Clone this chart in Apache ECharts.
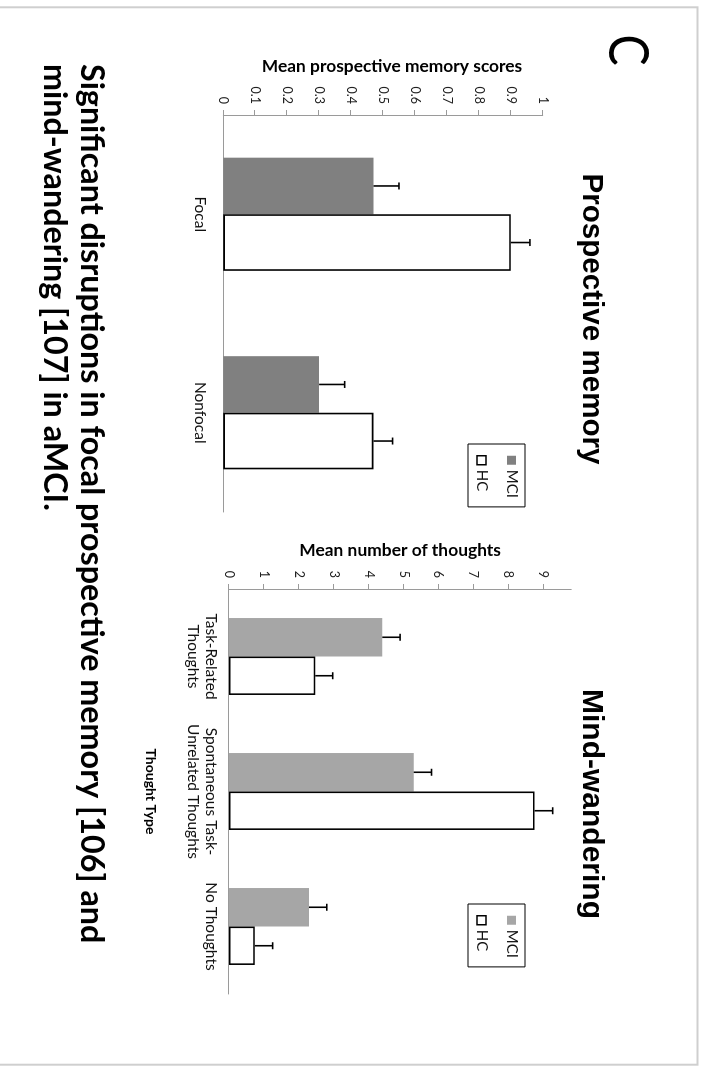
<!DOCTYPE html>
<html><head><meta charset="utf-8">
<script src="https://cdn.jsdelivr.net/npm/echarts@6/dist/echarts.min.js"></script>
<style>
html,body{margin:0;padding:0;background:#fff;width:704px;height:1071px;overflow:hidden;}
#wrap{position:absolute;left:0;top:0;width:1071px;height:704px;transform-origin:0 0;transform:translate(704px,0) rotate(90deg);}
</style></head><body><div id="wrap"></div>
<script>
// ---- data ----
const pmCategories = ['Focal', 'Nonfocal'];
const pmMCI = [0.47, 0.30];
const pmMCIErr = [0.08, 0.08];
const pmHC = [0.90, 0.47];
const pmHCErr = [0.06, 0.06];
const pmTicks = [0, 0.1, 0.2, 0.3, 0.4, 0.5, 0.6, 0.7, 0.8, 0.9, 1];

const mwCategories = ['Task-Related\nThoughts', 'Spontaneous Task-\nUnrelated Thoughts', 'No Thoughts'];
const mwMCI = [4.39, 5.29, 2.29];
const mwMCIErr = [0.51, 0.51, 0.51];
const mwHC = [2.47, 8.75, 0.74];
const mwHCErr = [0.50, 0.52, 0.51];
const mwTicks = [0, 1, 2, 3, 4, 5, 6, 7, 8, 9];
const mwAxisMax = 9.8;

const seriesNames = ['MCI', 'HC'];
const panelTitles = ['Prospective memory', 'Mind-wandering'];
const axisNames = ['Mean prospective memory scores', 'Mean number of thoughts', 'Thought Type'];
const captionLines = ['Significant disruptions in focal prospective memory [106] and', 'mind-wandering [107] in aMCI.'];
const panelLetter = 'C';

// ---- styles ----
const GAP = 0.43;
const AXIS_COLOR = '#9a9a9a';
const BODY_FONT = 'Lato';
const MCI_DARK = '#808080';
const MCI_LIGHT = '#a6a6a6';

const chart = echarts.init(document.getElementById('wrap'), null, {width: 1071, height: 704});

function valueAxis(gridIndex, max, interval, ticks, name, nameGap, namePad) {
  return {
    type: 'value', gridIndex: gridIndex, min: 0, max: max, interval: interval,
    name: name, nameLocation: 'middle', nameGap: nameGap, nameRotate: 90,
    nameTextStyle: {fontFamily: BODY_FONT, fontWeight: 'bold', fontSize: 17.4, color: '#000', padding: namePad},
    axisLine: {show: true, lineStyle: {color: AXIS_COLOR, width: 1}},
    axisTick: {show: true, length: 5, inside: false, lineStyle: {color: AXIS_COLOR, width: 1}, customValues: ticks},
    axisLabel: {show: true, customValues: ticks, margin: 11, fontFamily: BODY_FONT, fontSize: 12.5, color: '#222',
      formatter: function (v) { return String(+(+v).toFixed(2)); }},
    splitLine: {show: false}
  };
}
function catAxis(gridIndex, data, margin, extra) {
  return Object.assign({
    type: 'category', gridIndex: gridIndex, data: data, position: 'bottom',
    axisLine: {show: true, lineStyle: {color: AXIS_COLOR, width: 1}},
    axisTick: {show: false},
    axisLabel: {show: true, interval: 0, margin: margin, fontFamily: BODY_FONT, fontSize: 15.5, lineHeight: 18, color: '#111'},
    splitLine: {show: false}
  }, extra || {});
}
function errorBars(side) {
  return function (params, api) {
    const cat = api.value(0), val = api.value(1), err = api.value(2);
    const band = api.size([1, 0])[0];
    const barW = band * (1 - GAP) / 2;
    const base = api.coord([cat, val]);
    const end = api.coord([cat, val + err]);
    const x = base[0] + side * barW / 2;
    const cap = 3.5;
    const st = {stroke: '#000', lineWidth: 1.6};
    return {type: 'group', children: [
      {type: 'line', shape: {x1: x, y1: base[1], x2: x, y2: end[1]}, style: st},
      {type: 'line', shape: {x1: x - cap, y1: end[1], x2: x + cap, y2: end[1]}, style: st}
    ]};
  };
}
function errSeries(idx, vals, errs, side) {
  return {
    type: 'custom', xAxisIndex: idx, yAxisIndex: idx, clip: false, z: 5,
    renderItem: errorBars(side),
    encode: {x: 0, y: 1},
    data: vals.map(function (v, i) { return [i, v, errs[i]]; })
  };
}
function legendFor(idx, left, mciColor) {
  return {
    show: true, orient: 'vertical', left: left, top: 179,
    itemWidth: 9, itemHeight: 9, itemGap: 15, padding: [6, 9, 6, 11],
    borderColor: '#000', borderWidth: 1, backgroundColor: '#fff',
    icon: 'rect', selectedMode: false,
    textStyle: {fontFamily: BODY_FONT, fontSize: 15, color: '#111'},
    data: [
      {name: seriesNames[0], itemStyle: {color: mciColor, borderWidth: 0}},
      {name: seriesNames[1], itemStyle: {color: '#fff', borderColor: '#000', borderWidth: 1.5}}
    ]
  };
}

const option = {
  backgroundColor: '#fff',
  animation: false,
  grid: [
    {left: 115, top: 161.3, width: 397, height: 319.4, outerBoundsMode: 'none', containLabel: false},
    {left: 589, top: 132.8, width: 405, height: 342.2, outerBoundsMode: 'none', containLabel: false}
  ],
  xAxis: [
    catAxis(0, pmCategories, 14),
    catAxis(1, mwCategories, 9, {
      name: axisNames[2], nameLocation: 'middle', nameGap: 71,
      nameTextStyle: {fontFamily: BODY_FONT, fontWeight: 'bold', fontSize: 14, color: '#000'}
    })
  ],
  yAxis: [
    valueAxis(0, 1, 0.1, pmTicks, axisNames[0], 40, [0, 0, 0, 18]),
    valueAxis(1, mwAxisMax, 1, mwTicks, axisNames[1], 30, 0)
  ],
  legend: [legendFor(0, 444, MCI_DARK), legendFor(1, 904, MCI_LIGHT)],
  series: [
    {type: 'bar', name: seriesNames[0], xAxisIndex: 0, yAxisIndex: 0, data: pmMCI,
      itemStyle: {color: MCI_DARK}, barGap: '0%', barCategoryGap: (GAP * 100) + '%'},
    {type: 'bar', name: seriesNames[1], xAxisIndex: 0, yAxisIndex: 0, data: pmHC,
      itemStyle: {color: '#fff', borderColor: '#000', borderWidth: 1.6}, barGap: '0%', barCategoryGap: (GAP * 100) + '%'},
    errSeries(0, pmMCI, pmMCIErr, -1),
    errSeries(0, pmHC, pmHCErr, 1),
    {type: 'bar', name: seriesNames[0], xAxisIndex: 1, yAxisIndex: 1, data: mwMCI,
      itemStyle: {color: MCI_LIGHT}, barGap: '0%', barCategoryGap: (GAP * 100) + '%'},
    {type: 'bar', name: seriesNames[1], xAxisIndex: 1, yAxisIndex: 1, data: mwHC,
      itemStyle: {color: '#fff', borderColor: '#000', borderWidth: 1.6}, barGap: '0%', barCategoryGap: (GAP * 100) + '%'},
    errSeries(1, mwMCI, mwMCIErr, -1),
    errSeries(1, mwHC, mwHCErr, 1)
  ],
  graphic: [
    {type: 'rect', silent: true, shape: {x: 7.3, y: 6.5, width: 1057.4, height: 720},
      style: {fill: 'none', stroke: '#cfcfcf', lineWidth: 2}},
    {type: 'text', x: 50, y: 77, scaleX: 0.82, style: {text: panelLetter, fontFamily: BODY_FONT, fontSize: 57, fontWeight: 'normal', fill: '#000', align: 'center', verticalAlign: 'middle'}},
    {type: 'text', x: 319, y: 112.5, style: {text: panelTitles[0], fontFamily: 'Liberation Sans', fontSize: 29.6, fontWeight: 'bold', fill: '#000', align: 'center', verticalAlign: 'middle'}},
    {type: 'text', x: 804, y: 112.5, style: {text: panelTitles[1], fontFamily: 'Liberation Sans', fontSize: 30, fontWeight: 'bold', fill: '#000', align: 'center', verticalAlign: 'middle'}},
    {type: 'text', x: 64, y: 612.7, style: {text: captionLines[0], fontFamily: BODY_FONT, fontSize: 32.3, fontWeight: 'bold', fill: '#000', align: 'left', verticalAlign: 'middle'}},
    {type: 'text', x: 64, y: 649.4, style: {text: captionLines[1], fontFamily: BODY_FONT, fontSize: 32.3, fontWeight: 'bold', fill: '#000', align: 'left', verticalAlign: 'middle'}}
  ]
};
chart.setOption(option);
</script></body></html>
